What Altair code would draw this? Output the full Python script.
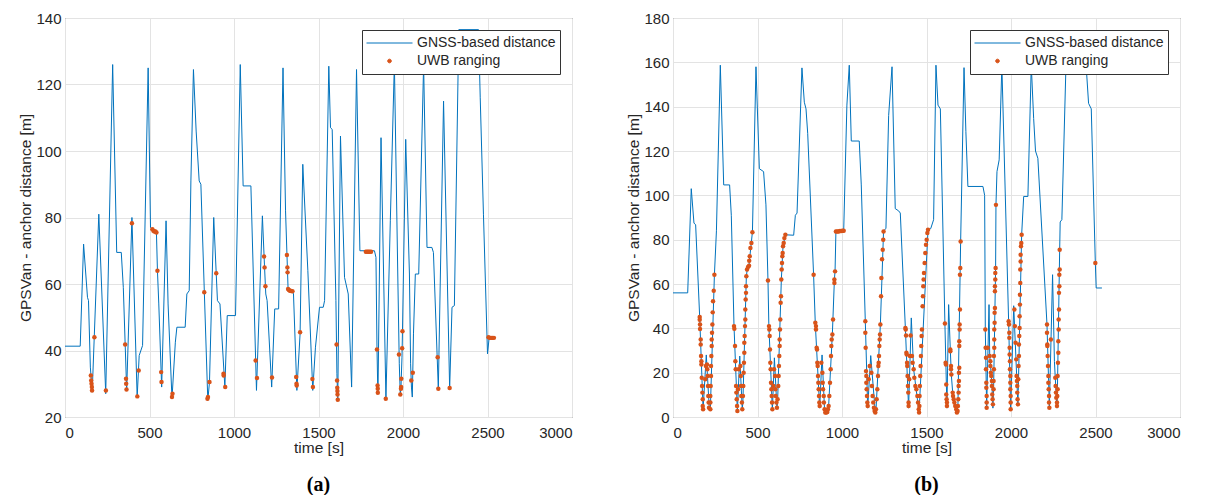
import altair as alt
import pandas as pd

SERIES = ["GNSS-based distance", "UWB ranging"]
BLUE = "#0072BD"
ORANGE = "#D95319"

# ---------------- panel (a) ----------------
a_gnss = [(0, 41.3), (90, 41.3), (110, 72), (133, 56), (139, 55), (150, 35), (161, 27.5), (200, 81),
          (241, 27), (282, 126), (306, 69.5), (333, 69.5), (345, 59), (365, 28), (396, 80), (427, 26),
          (439, 38.5), (459, 41.5), (492, 125), (506, 77), (541, 75.5), (547, 64), (555, 54), (572, 29),
          (598, 79), (610, 54), (633, 25.5), (653, 42.5), (662, 47), (711, 47), (721, 57), (735, 58),
          (745, 91), (760, 124.5), (776, 106), (794, 91), (804, 90), (845, 25), (855, 30.5), (880, 80),
          (902, 55), (917, 54), (946, 29), (960, 50.5), (1009, 50.5), (1037, 126), (1054, 89.5),
          (1100, 89.5), (1133, 28), (1168, 80.5), (1180, 66), (1188, 57), (1196, 55), (1223, 29),
          (1241, 52.5), (1264, 52.5), (1290, 125), (1305, 82), (1320, 58.5), (1346, 57.8), (1352, 57),
          (1372, 28), (1391, 45), (1407, 96), (1437, 64), (1466, 28), (1482, 41), (1506, 53), (1528, 53),
          (1536, 55), (1561, 125.5), (1571, 107), (1581, 106.5), (1603, 55), (1609, 33), (1614, 25),
          (1630, 104.5), (1654, 62), (1676, 57), (1696, 29), (1725, 124.5), (1745, 70), (1831, 70),
          (1840, 68), (1846, 41), (1850, 30), (1852, 27), (1870, 104), (1899, 25.5), (1925, 79),
          (1949, 126.5), (1970, 60), (1978, 36), (1984, 26.5), (1988, 29), (1994, 38), (1997, 46),
          (2016, 103.5), (2038, 63), (2045, 36), (2050, 29), (2055, 26), (2057, 31), (2062, 45),
          (2073, 63), (2093, 63), (2122, 126), (2142, 71), (2171, 71), (2180, 69.5), (2209, 28.5),
          (2240, 115), (2276, 28.5), (2290, 53), (2304, 53.5), (2330, 136.5), (2447, 136.5), (2457, 116),
          (2476, 81), (2500, 39), (2510, 44), (2517, 44)]

a_uwb = [(153, 32.5), (155, 31), (157, 30), (159, 29), (160, 28), (174, 44), (242, 28), (356, 41.8),
         (361, 31.5), (362, 30), (364, 28.3), (396, 78.3), (428, 26.2), (436, 34), (517, 76.5),
         (523, 76), (529, 75.8), (535, 75.8), (541, 75.5), (547, 64), (569, 33.5), (571, 30.5),
         (633, 26), (636, 27), (824, 57.5), (843, 25.5), (846, 26), (855, 30.5), (895, 63.2),
         (938, 33), (939, 32.5), (948, 29), (1128, 37), (1136, 31.7), (1178, 68.3), (1181, 65),
         (1186, 59.3), (1225, 31.9), (1313, 68.7), (1316, 65), (1317, 63.5), (1320, 58.5), (1325, 58.2),
         (1331, 58), (1338, 57.9), (1346, 57.8), (1368, 32), (1370, 30), (1371, 29.5), (1391, 45.5),
         (1464, 31.4), (1467, 29), (1607, 41.8), (1610, 31), (1611, 28.8), (1612, 27.8), (1612.5, 26.8),
         (1614, 25.2), (1780, 69.7), (1788, 69.7), (1795, 69.7), (1803, 69.7), (1811, 69.7),
         (1846, 40.3), (1849.5, 29.5), (1850.5, 28.5), (1851, 27.3), (1898, 25.5), (1976, 38.8),
         (1984, 26.8), (1990, 31.5), (1989, 29), (1988, 28.5), (1997, 45.8), (1995, 40.7), (2049, 31),
         (2058, 33.3), (2205, 38), (2209, 28.5), (2276, 28.7), (2506, 44), (2514, 43.8), (2522, 43.8),
         (2530, 43.8), (2538, 43.8)]

# ---------------- panel (b) ----------------
b_gnss = [(0, 56), (87, 56), (108, 103), (124, 87.5), (134, 86.7), (158, 45), (178, 3.5), (197, 28),
          (215, 3.5), (221, 3.5), (245, 64), (257, 84), (280, 158.7), (300, 104.7), (335, 104.7),
          (345, 91), (361, 41), (381, 2.5), (395, 27.5), (410, 3), (414, 8), (434, 63.5), (440, 67),
          (450, 68.5), (452, 71), (455, 72.5), (470, 83.5), (491, 158), (511, 112), (536, 110.7),
          (550, 95.7), (562, 61.6), (567, 42), (588, 3), (600, 26.7), (615, 4), (619, 7), (641, 62),
          (651, 77), (665, 82.2), (714, 82), (724, 91), (734, 92), (763, 157.5), (777, 142), (787, 139),
          (797, 128), (832, 64), (842, 42), (868, 4), (882, 28), (897, 3), (917, 2), (921, 5),
          (943, 37.5), (955, 62), (959, 66), (964, 83.7), (1010, 84), (1029, 140.7), (1043, 158.7),
          (1055, 124.5), (1102, 124.5), (1114, 104.7), (1138, 43), (1152, 4), (1170, 27.7), (1197, 2),
          (1201, 3), (1227, 41.7), (1246, 84), (1260, 85), (1276, 136), (1296, 158), (1315, 94),
          (1335, 93), (1345, 92), (1375, 40), (1394, 4), (1410, 44.7), (1424, 21.5), (1456, 2),
          (1509, 84.5), (1525, 85), (1542, 89), (1556, 158.7), (1568, 140.7), (1582, 139), (1609, 42),
          (1621, 4), (1631, 50.7), (1641, 30), (1647, 19), (1655, 11), (1680, 2), (1686, 5), (1702, 79),
          (1722, 157.6), (1733, 128.7), (1745, 104), (1834, 104), (1844, 100), (1848, 39.5), (1856, 4),
          (1870, 50.7), (1874, 28), (1887, 15), (1893, 4), (1897, 12.5), (1909, 67.2), (1911, 95.7),
          (1917, 110.7), (1930, 116), (1946, 158.7), (1986, 43), (1998, 3), (2016, 50.2), (2041, 5),
          (2043, 12), (2063, 82.2), (2075, 99.5), (2100, 99.5), (2120, 158.7), (2134, 134.7),
          (2145, 120), (2159, 116.7), (2213, 41.7), (2227, 4), (2246, 64.2), (2257, 25), (2262, 17.7),
          (2272, 4), (2274, 9), (2288, 75.5), (2291, 88), (2301, 89), (2325, 158), (2445, 158),
          (2459, 141.5), (2475, 139), (2499, 69.5), (2504, 58.2), (2538, 58.2)]

b_uwb = [
    # pass 1
    (158, 45.1), (158, 43.9), (160, 41.7), (160, 39.7), (164, 35), (164, 32.7), (166, 27.5), (168, 25.2),
    (168, 23.7), (170, 17.7), (172, 14), (174, 11), (176, 8), (176, 5), (178, 3.5), (191, 17), (195, 23),
    (201, 23.7), (203, 21.5), (205, 18.5), (207, 14), (209, 9.5), (211, 6.5), (213, 4.2), (221, 3.5),
    (221, 6.5), (221, 9.5), (223, 14), (225, 18.5), (225, 23), (227, 27.5), (229, 32), (229, 35),
    (231, 38), (233, 41.7), (235, 47.2), (237, 52.2), (241, 57), (245, 64.2),
    # pass 2
    (361, 41), (363, 39.8), (367, 32), (369, 25.2), (371, 21.5), (373, 14), (375, 11), (377, 8),
    (379, 5), (381, 2.7), (385, 12.5), (389, 21.5), (399, 23), (401, 18.5), (402, 14), (404, 9.5),
    (408, 6.5), (410, 3.5), (414, 9.5), (416, 14), (418, 20), (420, 24.5), (422, 29), (422, 33.5),
    (424, 36.5), (426, 41), (428, 44), (428, 48.5), (430, 53), (432, 56), (432, 59), (434, 63.5),
    (438, 66.5), (444, 67.7), (450, 68.2), (451, 70.5), (454, 72.5), (458, 76.2), (464, 78.5),
    (470, 83.3),
    # pass 3
    (562, 61.6), (568, 41), (570, 39.5), (572, 36.5), (574, 30.5), (576, 24.5), (578, 21.5),
    (580, 15.5), (582, 12.5), (584, 9.5), (586, 6.5), (588, 3.5), (594, 14), (598, 21.5), (604, 18.5),
    (606, 12.5), (608, 9.5), (612, 6.5), (615, 4.2), (619, 8), (623, 14), (625, 18.5), (627, 23),
    (629, 27.5), (631, 32), (631, 35), (633, 39.5), (635, 44), (637, 51.5), (639, 54.5), (641, 62),
    (643, 66.5), (645, 69.5), (647, 72.5), (649, 74), (651, 77), (655, 78.5), (659, 80.7), (665, 82.2),
    # pass 4
    (832, 64.2), (842, 42.5), (846, 41), (846, 39.5), (850, 31.2), (852, 30.5), (854, 24.5), (856, 23),
    (858, 18.5), (860, 15.5), (862, 12.5), (864, 9.5), (866, 6.5), (868, 5), (878, 24.5), (884, 20),
    (886, 15.5), (888, 12.5), (892, 9.5), (893, 6.5), (897, 3.5), (901, 2), (907, 2), (913, 2.2),
    (917, 3.5), (921, 5), (925, 9.5), (929, 15.5), (933, 21.5), (935, 27.5), (937, 32), (939, 35),
    (943, 37.2), (947, 44), (955, 62), (955, 60.5), (959, 65.7), (964, 83.7), (972, 83.7), (980, 83.7),
    (988, 83.9), (996, 83.9), (1004, 84), (1010, 84),
    # pass 5
    (1138, 43.2), (1138, 38), (1140, 31.2), (1142, 20.7), (1144, 18.5), (1144, 15.5), (1146, 12.5),
    (1148, 9.5), (1150, 6.5), (1152, 5), (1158, 17), (1164, 23), (1174, 20), (1177, 14), (1181, 9.5),
    (1185, 6.5), (1189, 4.2), (1193, 2.7), (1197, 2), (1201, 3.5), (1205, 8), (1209, 12.5),
    (1213, 18.5), (1215, 23), (1217, 24.5), (1219, 27.5), (1221, 32), (1223, 35), (1225, 37.2),
    (1227, 41.7), (1231, 54.5), (1233, 62.7), (1237, 71.2), (1241, 75.5), (1244, 80), (1246, 83.7),
    # pass 6
    (1375, 40.2), (1377, 39.5), (1379, 36.8), (1381, 29), (1383, 28.2), (1385, 24.5), (1386, 23),
    (1388, 18.5), (1390, 14), (1392, 11), (1394, 6.5), (1394, 5), (1398, 17), (1402, 27.5),
    (1406, 36.8), (1414, 27.5), (1418, 24.5), (1424, 21.5), (1428, 17.7), (1434, 14), (1440, 12.5),
    (1446, 9.5), (1450, 6.5), (1454, 3.5), (1456, 2), (1458, 5), (1459, 9.5), (1461, 14), (1463, 18.5),
    (1465, 23), (1467, 27.5), (1469, 32), (1471, 36.5), (1473, 39.5), (1477, 50), (1479, 54.5),
    (1481, 59), (1483, 62), (1485, 65), (1489, 69.5), (1493, 74), (1497, 77.7), (1501, 80), (1505, 83),
    (1509, 84.5),
    # pass 7
    (1609, 42.2), (1613, 24.5), (1615, 23.7), (1617, 14.7), (1617, 10.2), (1619, 8), (1621, 6.5),
    (1621, 5), (1641, 30.5), (1641, 29.7), (1645, 23), (1645, 21.5), (1647, 19.2), (1655, 11),
    (1657, 9.5), (1661, 8), (1665, 6.5), (1670, 5), (1676, 3.5), (1680, 2), (1684, 2.7), (1686, 5),
    (1688, 8), (1690, 11), (1690, 14), (1692, 16.2), (1692, 20), (1694, 22.2), (1694, 32), (1694, 34.2),
    (1696, 39.5), (1696, 41.7), (1698, 48.5), (1698, 64.2), (1700, 67.2), (1702, 79.2),
    # pass 8
    (1848, 39.5), (1850, 31.2), (1852, 26.7), (1852, 21.5), (1854, 15.5), (1854, 13.2), (1856, 9.5),
    (1856, 6.5), (1856, 4.2), (1862, 31.2), (1874, 27.5), (1878, 25.2), (1878, 23), (1881, 20),
    (1883, 18.5), (1887, 16.2), (1887, 14), (1889, 10.2), (1891, 8), (1893, 5.7), (1897, 12.5),
    (1897, 16.2), (1899, 21.5), (1899, 27.5), (1901, 31.2), (1901, 35), (1901, 39.5), (1903, 42.5),
    (1903, 47), (1905, 49.2), (1905, 56.7), (1905, 59), (1907, 62), (1907, 65), (1909, 67.2),
    (1911, 95.7),
    # pass 9
    (1986, 43.2), (1988, 41.7), (1990, 38), (1990, 35.7), (1992, 31.2), (1992, 28.2), (1994, 25.2),
    (1994, 21.5), (1996, 18.5), (1996, 15.5), (1996, 12.5), (1998, 9.5), (1998, 6.5), (1998, 3.5),
    (2020, 48.5), (2023, 41), (2027, 33.5), (2031, 26), (2033, 18.5), (2035, 16.2), (2037, 14),
    (2037, 11), (2039, 8), (2041, 5.7), (2043, 17), (2045, 23), (2047, 27.5), (2047, 32.7),
    (2049, 36.5), (2051, 40.2), (2051, 45.5), (2053, 50.7), (2053, 55.2), (2055, 60.5), (2055, 66.5),
    (2057, 70.2), (2057, 73.2), (2059, 77), (2061, 78.5), (2063, 82.2),
    # pass 10
    (2213, 41.7), (2213, 38), (2215, 32.7), (2215, 32), (2217, 27.5), (2219, 23), (2221, 18.5),
    (2221, 15.5), (2223, 12.5), (2225, 9.5), (2225, 6.5), (2227, 4.2), (2236, 35), (2262, 17.7),
    (2264, 14), (2266, 11), (2268, 8.7), (2272, 6.5), (2272, 5), (2274, 9.5), (2276, 12.5),
    (2276, 18.5), (2278, 24.5), (2280, 29), (2280, 34.2), (2282, 39.5), (2282, 44), (2284, 48.5),
    (2284, 56), (2286, 59), (2286, 64.2), (2288, 66.5), (2288, 75.5),
    (2499, 69.5),
]

x_ticks = [0, 500, 1000, 1500, 2000, 2500, 3000]
a_y_ticks = [20, 40, 60, 80, 100, 120, 140]
b_y_ticks = [0, 20, 40, 60, 80, 100, 120, 140, 160, 180]

FONT = "Liberation Sans"
DOT_PATH = "M-0.08,0A0.08,0.08,0,1,1,0.08,0A0.08,0.08,0,1,1,-0.08,0Z"


def panel(gnss, uwb, ydom, yticks, tag):
    line_df = pd.DataFrame(gnss, columns=["t", "d"]).assign(series=SERIES[0])
    dot_df = pd.DataFrame(uwb, columns=["t", "d"]).assign(series=SERIES[1])
    legend = alt.Legend(
        title=None, orient="top-right", offset=12, fillColor="white", strokeColor="#333333",
        padding=4, labelFont=FONT, labelFontSize=14, labelColor="#262626", labelOffset=4,
        symbolType={"expr": f"datum.value == 'UWB ranging' ? '{DOT_PATH}' : 'M-1,0L1,0'"},
        symbolSize=2116, symbolStrokeWidth=1, symbolOpacity=1, clipHeight=18, rowPadding=0,
    )
    color = alt.Color("series:N", scale=alt.Scale(domain=SERIES, range=[BLUE, ORANGE]), legend=legend)
    x = alt.X("t:Q", scale=alt.Scale(domain=[0, 3000], nice=False),
              axis=alt.Axis(values=x_ticks, format="d", title="time [s]", labelPadding=8,
                            titlePadding=0))
    y = alt.Y("d:Q", scale=alt.Scale(domain=ydom, nice=False, zero=False),
              axis=alt.Axis(values=yticks, format="d", title="GPSVan - anchor distance [m]",
                            labelPadding=4, titlePadding=2))
    line = alt.Chart(line_df).mark_line(strokeWidth=1).encode(x=x, y=y, color=color)
    dots = alt.Chart(dot_df).mark_circle(size=20, opacity=1).encode(x=x, y=y, color=color)
    return alt.layer(line, dots).properties(
        width=507, height=399,
        title=alt.TitleParams(tag, orient="bottom", anchor="middle", font="Liberation Serif",
                              fontSize=20, fontWeight="bold", color="black", offset=19),
    )


pa = panel(a_gnss, a_uwb, [20, 140], a_y_ticks, "(a)")
pb = panel(b_gnss, b_uwb, [0, 180], b_y_ticks, "(b)")

chart = (
    alt.hconcat(pa, pb, spacing=101, bounds="flush")
    .resolve_scale(color="independent")
    .properties(padding={"left": 10, "top": 2, "right": 5, "bottom": 0}, background="white")
    .configure_view(stroke="#4d4d4d", strokeWidth=1)
    .configure_axis(
        grid=True, gridColor="#e3e3e3", gridWidth=1, domain=False, ticks=False,
        labelFont=FONT, labelFontSize=15, labelColor="#262626",
        titleFont=FONT, titleFontSize=15.5, titleFontWeight="normal", titleColor="#262626",
    )
)

chart.save("out.html", embed_options={"renderer": "svg", "actions": False})
